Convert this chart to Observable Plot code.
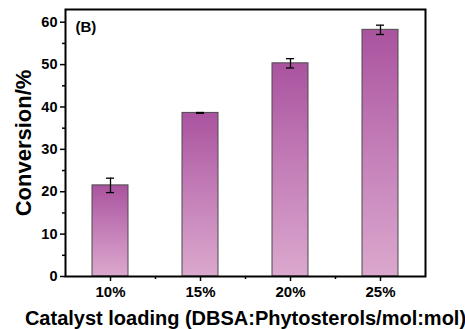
<!DOCTYPE html>
<html>
<head>
<meta charset="utf-8">
<script src="https://cdn.jsdelivr.net/npm/d3@7"></script>
<script src="https://cdn.jsdelivr.net/npm/@observablehq/plot@0.6"></script>
<style>
  html, body { margin: 0; padding: 0; background: #fff; }
  svg { font-family: "Liberation Sans", Arial, sans-serif; font-weight: bold; }
</style>
</head>
<body>
<div id="chart"></div>
<script>
const categories = ["10%", "15%", "20%", "25%"];
const conversion = [21.5, 38.6, 50.3, 58.2];
const errors = [1.7, 0.1, 1.1, 1.1];
const yMajorTicks = [0, 10, 20, 30, 40, 50, 60];
const yMinorTicks = [5, 15, 25, 35, 45, 55];
const xLabel = "Catalyst loading (DBSA:Phytosterols/mol:mol)";
const yLabel = "Conversion/%";
const panelLabel = "(B)";

const data = categories.map((c, i) => ({
  cat: c, pos: i + 1, value: conversion[i], err: errors[i]
}));
const halfBar = 0.2;
const halfCap = 0.045;
const xMinorTicks = data.slice(0, -1).map(d => d.pos + 0.5);

const gradientDefs = () => {
  const ns = "http://www.w3.org/2000/svg";
  const defs = document.createElementNS(ns, "defs");
  const g = document.createElementNS(ns, "linearGradient");
  g.setAttribute("id", "barGrad");
  g.setAttribute("x1", "0"); g.setAttribute("y1", "0");
  g.setAttribute("x2", "0"); g.setAttribute("y2", "1");
  [["0%", "#AA539F"], ["50%", "#C47FB8"], ["100%", "#DBA8CE"]].forEach(([o, c]) => {
    const s = document.createElementNS(ns, "stop");
    s.setAttribute("offset", o); s.setAttribute("stop-color", c);
    g.appendChild(s);
  });
  defs.appendChild(g);
  return defs;
};

const chart = Plot.plot({
  width: 465,
  height: 329,
  marginLeft: 65,
  marginRight: 40,
  marginTop: 9,
  marginBottom: 53,
  style: { fontFamily: "Liberation Sans, Arial, sans-serif", fontWeight: "bold", color: "black", background: "white" },
  x: { type: "linear", domain: [0.5, 4.5] },
  y: { domain: [0, 63] },
  marks: [
    gradientDefs,
    Plot.rectY(data, {
      x1: d => d.pos - halfBar, x2: d => d.pos + halfBar, y1: 0, y2: "value",
      fill: "url(#barGrad)", stroke: "#4a4a4a", strokeWidth: 1
    }),
    Plot.ruleX(data, { x: "pos", y1: d => d.value - d.err, y2: d => d.value + d.err, stroke: "black", strokeWidth: 1.3 }),
    Plot.ruleY(data, { x1: d => d.pos - halfCap, x2: d => d.pos + halfCap, y: d => d.value - d.err, stroke: "black", strokeWidth: 1.3 }),
    Plot.ruleY(data, { x1: d => d.pos - halfCap, x2: d => d.pos + halfCap, y: d => d.value + d.err, stroke: "black", strokeWidth: 1.3 }),
    Plot.axisY({ ticks: yMajorTicks, tickSize: 5, tickPadding: 3, fontSize: 14.5, strokeWidth: 1.5, label: null }),
    Plot.axisY({ ticks: yMinorTicks, tickSize: 3, tickFormat: () => "", strokeWidth: 1.5, label: null }),
    Plot.axisX({ ticks: data.map(d => d.pos), tickFormat: (d) => categories[d - 1], tickSize: 5, tickPadding: 5, fontSize: 15, strokeWidth: 1.5, label: null }),
    Plot.axisX({ ticks: xMinorTicks, tickSize: 3, tickFormat: () => "", strokeWidth: 1.5, label: null }),
    Plot.frame({ stroke: "black", strokeWidth: 2 }),
    Plot.text([panelLabel], { frameAnchor: "top-left", dx: 10, dy: 12, fontSize: 15, fontWeight: "bold", textAnchor: "start", fill: "black" }),
    Plot.text([xLabel], { frameAnchor: "bottom", lineAnchor: "middle", dy: 42, fontSize: 20, fontWeight: "bold", fill: "black" }),
    Plot.text([yLabel], { frameAnchor: "left", textAnchor: "middle", lineAnchor: "middle", rotate: -90, dx: -42, fontSize: 22, fontWeight: "bold", fill: "black" })
  ]
});
document.getElementById("chart").appendChild(chart);
</script>
</body>
</html>
